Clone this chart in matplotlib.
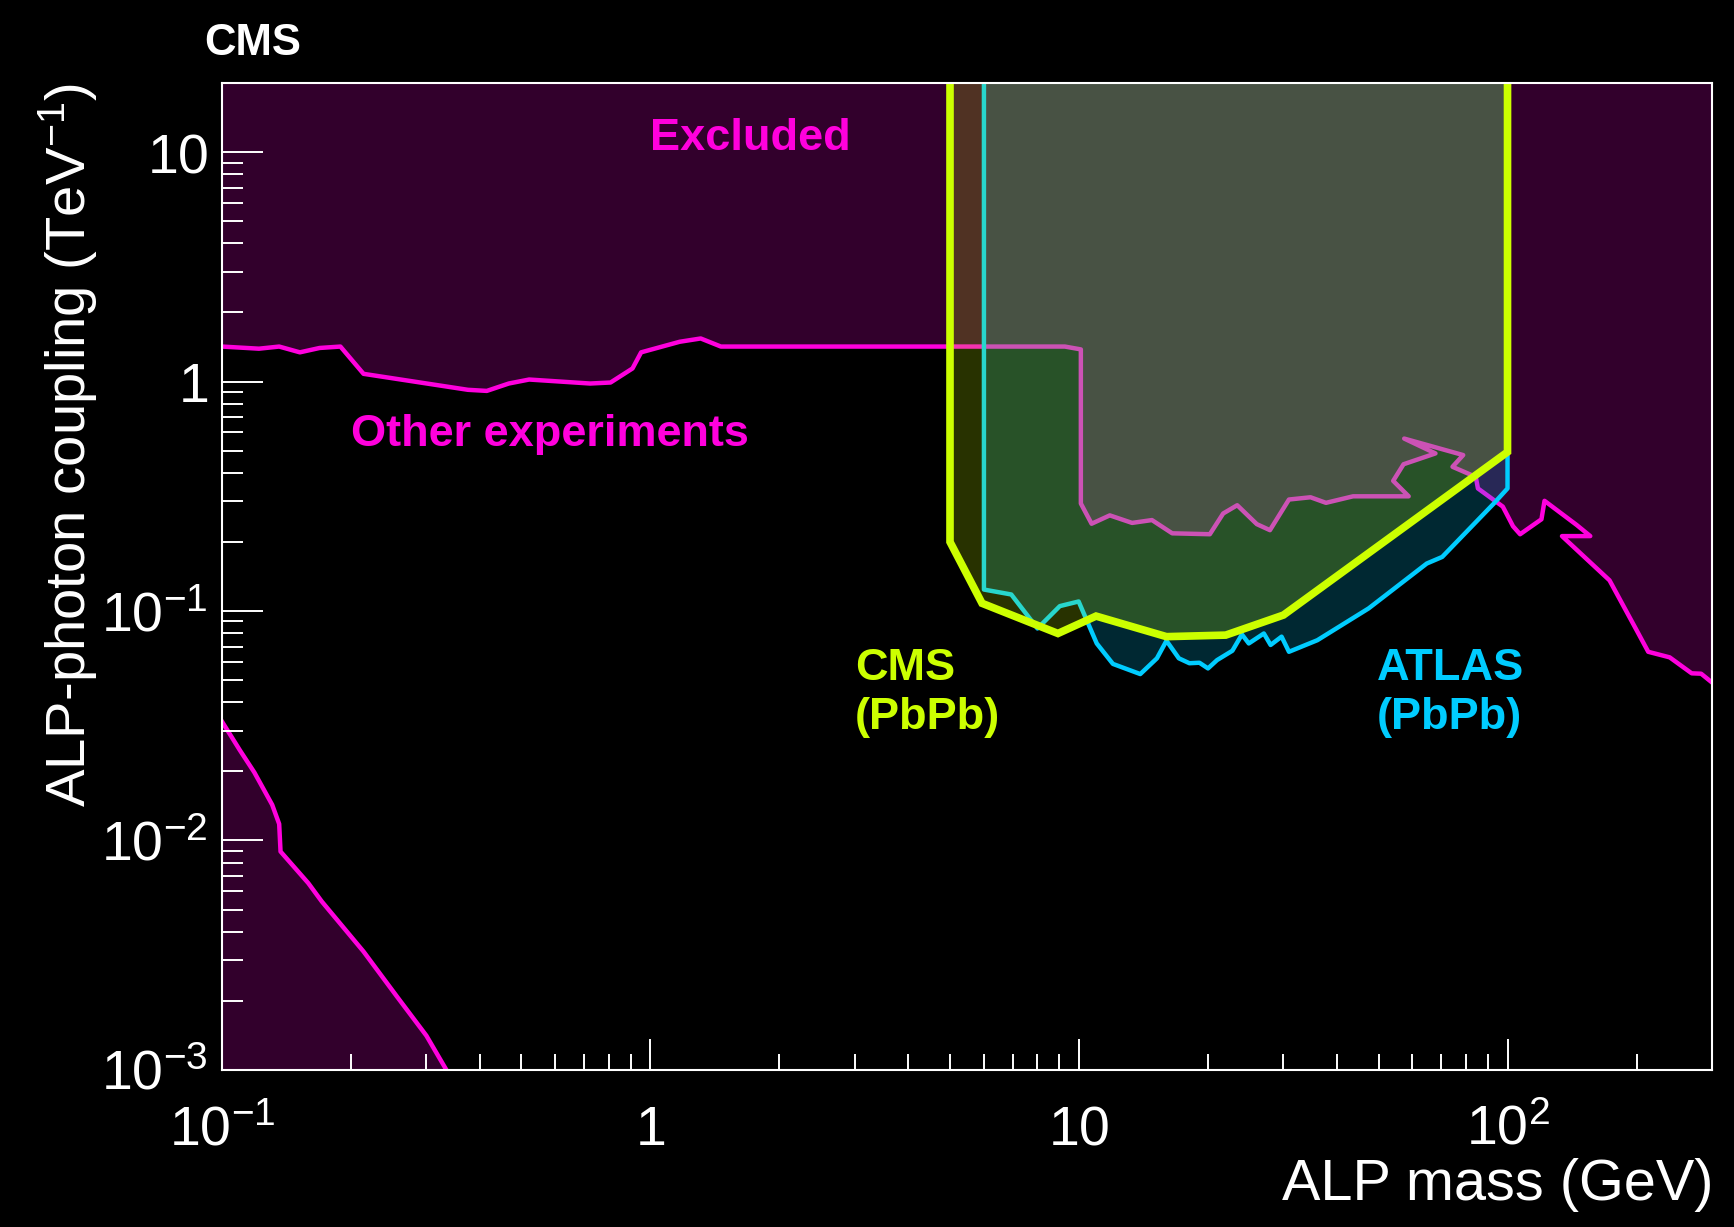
import numpy as np
import matplotlib
matplotlib.use('Agg')
import matplotlib.pyplot as plt
from matplotlib.ticker import FixedLocator, FixedFormatter, LogLocator, NullFormatter

plt.rcParams['font.family'] = ['Liberation Sans', 'DejaVu Sans']
plt.rcParams['mathtext.fontset'] = 'custom'
plt.rcParams['mathtext.rm'] = 'Liberation Sans'
plt.rcParams['mathtext.it'] = 'Liberation Sans:italic'
plt.rcParams['mathtext.bf'] = 'Liberation Sans:bold'

# other experiments, upper exclusion boundary (GeV, TeV^-1)
other_hi_x = [0.1, 0.122, 0.136, 0.152, 0.169, 0.189, 0.214, 0.375, 0.415, 0.467,
              0.521, 0.723, 0.807, 0.908, 0.951, 1.17, 1.31, 1.46, 9.27, 10.1,
              10.1, 10.7, 11.8, 13.3, 14.8, 16.5, 20.2, 21.7, 23.4, 26.0,
              27.9, 30.9, 34.7, 37.7, 43.6, 58.8, 54.1, 57.2, 67.9, 57.4,
              78.8, 74.4, 84.3, 85.3, 97.5, 103, 107, 120, 122, 145,
              156, 134, 173, 200, 213, 239, 269, 283, 300]
other_hi_y = [1.42, 1.39, 1.42, 1.34, 1.40, 1.42, 1.08, 0.92, 0.91, 0.98,
              1.02, 0.98, 0.99, 1.14, 1.34, 1.49, 1.54, 1.42, 1.42, 1.38,
              0.294, 0.240, 0.261, 0.242, 0.249, 0.218, 0.216, 0.266, 0.289, 0.239,
              0.225, 0.306, 0.313, 0.296, 0.316, 0.316, 0.369, 0.436, 0.486, 0.564,
              0.478, 0.425, 0.384, 0.342, 0.285, 0.234, 0.216, 0.251, 0.302, 0.237,
              0.212, 0.212, 0.136, 0.0826, 0.0664, 0.0628, 0.0535, 0.0533, 0.0488]

# other experiments, lower-left excluded corner
other_lo_x = [0.1, 0.110, 0.119, 0.131, 0.136, 0.137, 0.159, 0.171, 0.214, 0.256, 0.300, 0.334]
other_lo_y = [0.033, 0.0248, 0.0198, 0.0143, 0.0118, 0.00895, 0.00652, 0.00542, 0.00328,
              0.00209, 0.00141, 0.001]

# CMS PbPb
cms_x = [5, 5, 5.94, 8.93, 10.96, 16.0, 22.0, 30.0, 100, 100]
cms_y = [25, 0.2, 0.108, 0.0798, 0.095, 0.0773, 0.0785, 0.096, 0.493, 25]

# ATLAS PbPb
atlas_x = [6, 6, 6.95, 8.0, 9.02, 9.98, 11.0, 12.0, 13.9, 15.2,
           16.0, 17.1, 18.1, 19.1, 20.0, 21.0, 22.8, 24.0, 24.9, 27.0,
           28.0, 29.7, 30.9, 36.0, 47.4, 64.8, 70.4, 92.9, 100, 100]
atlas_y = [25, 0.124, 0.118, 0.0839, 0.105, 0.110, 0.0722, 0.0588, 0.0531, 0.0622,
           0.0742, 0.0622, 0.0592, 0.0595, 0.0562, 0.0611, 0.0671, 0.079, 0.0722, 0.0798,
           0.0711, 0.0773, 0.0664, 0.0746, 0.1026, 0.161, 0.172, 0.294, 0.342, 25]

x_ticks = [0.1, 1, 10, 100]
x_labels = ['$10^{-1}$', '$1$', '$10$', '$10^{2}$']
y_ticks = [1e-3, 1e-2, 1e-1, 1, 10]
y_labels = ['$10^{-3}$', '$10^{-2}$', '$10^{-1}$', '$1$', '$10$']

MAG = '#ff00dd'
LIME = '#ccff00'
CYAN = '#00ccff'

fig = plt.figure(figsize=(17.34, 12.27), dpi=100, facecolor='black')
ax = fig.add_axes([0.128, 0.128, 0.8593, 0.8044])
ax.set_facecolor('black')
ax.set_xscale('log')
ax.set_yscale('log')
ax.set_xlim(0.1, 300)
ax.set_ylim(1e-3, 20)

# excluded by other experiments
top = 25
ax.fill(other_hi_x + [300, 0.1], other_hi_y + [top, top], color=MAG, alpha=0.2, lw=0, zorder=1.0)
ax.fill(other_lo_x + [0.1], other_lo_y + [0.001], color=MAG, alpha=0.2, lw=0, zorder=1.0)
ax.plot(other_hi_x, other_hi_y, color=MAG, lw=3.2, zorder=1.1)
ax.plot(other_lo_x, other_lo_y, color=MAG, lw=3.2, zorder=1.1)

# ATLAS
ax.fill(atlas_x, atlas_y, color=CYAN, alpha=0.2, lw=0, zorder=1.2)
ax.plot(atlas_x, atlas_y, color=CYAN, lw=3.2, zorder=1.3)

# CMS
ax.fill(cms_x, cms_y, color=LIME, alpha=0.2, lw=0, zorder=1.4)
ax.plot(cms_x, cms_y, color=LIME, lw=5.5, zorder=1.5, solid_joinstyle='miter')

# axes styling
for s in ax.spines.values():
    s.set_color('white')
    s.set_linewidth(1.5)
    s.set_zorder(3)

ax.xaxis.set_major_locator(FixedLocator(x_ticks))
ax.xaxis.set_major_formatter(FixedFormatter(x_labels))
ax.xaxis.set_minor_locator(LogLocator(base=10, subs=np.arange(2, 10)))
ax.xaxis.set_minor_formatter(NullFormatter())
ax.yaxis.set_major_locator(FixedLocator(y_ticks))
ax.yaxis.set_major_formatter(FixedFormatter(y_labels))
ax.yaxis.set_minor_locator(LogLocator(base=10, subs=np.arange(2, 10), numticks=20))
ax.yaxis.set_minor_formatter(NullFormatter())

ax.tick_params(which='both', direction='in', colors='white', width=1.4, labelsize=40,
               top=False, right=False)
ax.tick_params(axis='x', which='major', length=22, pad=54)
ax.tick_params(axis='x', which='minor', length=11.5)
ax.tick_params(axis='y', which='major', length=29.5, pad=10)
ax.tick_params(axis='y', which='minor', length=15)
for lbl in ax.get_xticklabels():
    lbl.set_va('baseline')

ax.set_xlabel('ALP mass (GeV)', color='white', fontsize=41.5, loc='right')
ax.xaxis.label.set_va('baseline')
ax.xaxis.set_label_coords(1.001, -0.132)
ax.set_ylabel('ALP-photon coupling (TeV$^{-1}$)', color='white', fontsize=40.5, loc='top')
ax.yaxis.set_label_coords(-0.082, 1.0)

# annotations
bold = dict(fontweight='bold', fontsize=32.5)
ax.text(1.0, 11.5, 'Excluded', color=MAG, va='center', ha='left', **bold, zorder=5)
ax.text(0.20, 0.585, 'Other experiments', color=MAG, va='center', ha='left', **bold, zorder=5)
ax.text(3.0, 0.056, 'CMS', color=LIME, va='center', ha='left', **bold, zorder=5)
ax.text(3.0, 0.0343, '(PbPb)', color=LIME, va='center', ha='left', **bold, zorder=5)
ax.text(49.5, 0.056, 'ATLAS', color=CYAN, va='center', ha='left', **bold, zorder=5)
ax.text(49.5, 0.0343, '(PbPb)', color=CYAN, va='center', ha='left', **bold, zorder=5)

fig.text(0.118, 0.9645, 'CMS', color='white', fontweight='bold', fontsize=31.5,
         va='center', ha='left')

fig.savefig('out.png', dpi=100, facecolor='black')
